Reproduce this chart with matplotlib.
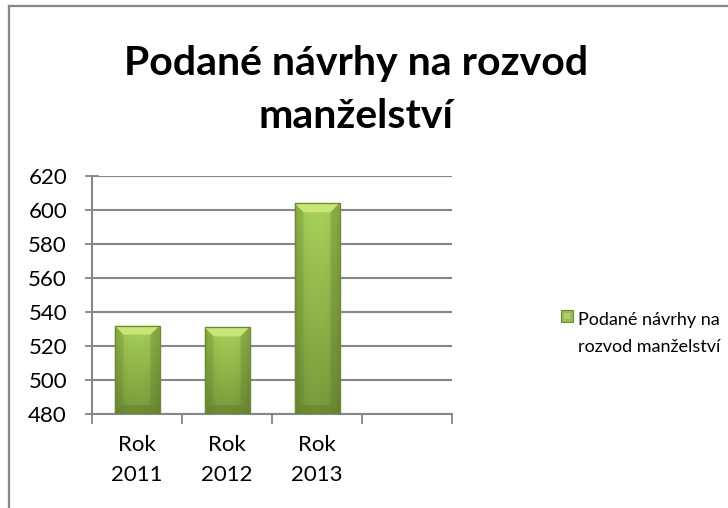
import numpy as np
import matplotlib
matplotlib.use("Agg")
import matplotlib.pyplot as plt
from matplotlib.lines import Line2D
from matplotlib.patches import Polygon, Rectangle

categories = ["Rok\n2011", "Rok\n2012", "Rok\n2013"]
values = [532, 531, 604]
series_name = "Podané návrhy na\nrozvod manželství"
title = "Podané návrhy na rozvod\nmanželství"
yticks = [480, 500, 520, 540, 560, 580, 600, 620]
n_slots = 4

plt.rcParams['font.family'] = ['Lato', 'DejaVu Sans']

W, H = 728, 508
fig = plt.figure(figsize=(W / 100, H / 100), dpi=100)
fig.patch.set_facecolor("white")

# frame lines (top and left visible)
fig.add_artist(Line2D([9 / W, 9 / W], [0, 1 - 6 / H], color="#878787", lw=1.6, transform=fig.transFigure))
fig.add_artist(Line2D([9 / W, 1], [1 - 6 / H, 1 - 6 / H], color="#878787", lw=1.6, transform=fig.transFigure))

ax = fig.add_axes([92 / W, 1 - 414 / H, (452 - 92) / W, (414 - 176) / H])
ax.set_xlim(-0.5, n_slots - 0.5)
ax.set_ylim(yticks[0], yticks[-1])
ax.set_yticks(yticks)
ax.set_yticklabels([str(t) for t in yticks], fontsize=16, color="black")
ax.tick_params(axis="y", direction="inout", length=10, width=1.3, color="#868686", pad=13)
ax.yaxis.grid(True, color="#868686", lw=1.5)
ax.set_axisbelow(True)

x = np.arange(len(categories))
ax.set_xticks(x)
ax.set_xticklabels(categories, fontsize=16, linespacing=1.65)
ax.tick_params(axis="x", which="major", length=0, pad=15)
ax.set_xticks(np.arange(n_slots + 1) - 0.5, minor=True)
ax.tick_params(axis="x", which="minor", direction="out", length=7, width=1.3, color="#868686")

for s in ["top", "right"]:
    ax.spines[s].set_visible(False)
for s in ["left", "bottom"]:
    ax.spines[s].set_color("#868686")
    ax.spines[s].set_linewidth(1.5)

bw = 0.5
bars = ax.bar(x, np.array(values) - yticks[0], bottom=yticks[0], width=bw, color="#9BBB59",
              edgecolor="#6d8a33", lw=0.8, zorder=3)

gy = np.linspace(1, 0, 256)[:, None]
gx = np.linspace(0, 1, 64)[None, :]
top = np.array([0.66, 0.82, 0.35])
bot = np.array([0.47, 0.60, 0.23])
img = (bot[None, None, :] * (1 - gy[..., None]) + top[None, None, :] * gy[..., None])
edge = 1 - 0.15 * (np.abs(gx - 0.5) * 2) ** 3
img = np.clip(img * edge[..., None], 0, 1)

px_y = (yticks[-1] - yticks[0]) / (414 - 176)
px_x = (n_slots) / (452 - 92)
bev_px = 9
for b in bars:
    x0, y0 = b.get_x(), b.get_y()
    w, h = b.get_width(), b.get_height()
    im = ax.imshow(img, extent=[x0, x0 + w, y0, y0 + h], aspect="auto", zorder=3.5, interpolation="bilinear")
    im.set_clip_path(b)
    dx, dy = bev_px * px_x, bev_px * px_y
    ax.add_patch(Polygon([[x0, y0 + h], [x0 + w, y0 + h], [x0 + w - dx, y0 + h - dy], [x0 + dx, y0 + h - dy]],
                         closed=True, color="#cdea7c", lw=0, zorder=3.6, alpha=0.9))
    ax.add_patch(Polygon([[x0, y0], [x0 + w, y0], [x0 + w - dx, y0 + dy], [x0 + dx, y0 + dy]],
                         closed=True, color="#5f7a2a", lw=0, zorder=3.6, alpha=0.45))
    ax.add_patch(Polygon([[x0, y0], [x0 + dx, y0 + dy], [x0 + dx, y0 + h - dy], [x0, y0 + h]],
                         closed=True, color="#5f7a2a", lw=0, zorder=3.6, alpha=0.2))
    ax.add_patch(Polygon([[x0 + w, y0], [x0 + w - dx, y0 + dy], [x0 + w - dx, y0 + h - dy], [x0 + w, y0 + h]],
                         closed=True, color="#5f7a2a", lw=0, zorder=3.6, alpha=0.3))
    ax.add_patch(Rectangle((x0, y0), w, h, fill=False, edgecolor="#6d8a33", lw=0.9, zorder=3.7))
ax.set_xlim(-0.5, n_slots - 0.5)
ax.set_ylim(yticks[0], yticks[-1])

# title (baseline of last line)
fig.text(356 / W, 1 - 128 / H, title, ha="center", va="baseline", fontsize=29.5, fontweight="bold",
         linespacing=1.55)

# legend
fig.add_artist(Rectangle((561 / W, 1 - 322 / H), 12 / W, 12 / H, transform=fig.transFigure,
                         facecolor="#9BBB59", edgecolor="#6d8a33", lw=0.8))
fig.add_artist(Rectangle((564 / W, 1 - 319 / H), 6 / W, 6 / H, transform=fig.transFigure,
                         facecolor="#b0d165", edgecolor="none"))
fig.text(649 / W, 1 - 352 / H, series_name, ha="center", va="baseline", fontsize=13,
         linespacing=1.85, multialignment="center")

fig.savefig("out.png", dpi=100, facecolor="white")
